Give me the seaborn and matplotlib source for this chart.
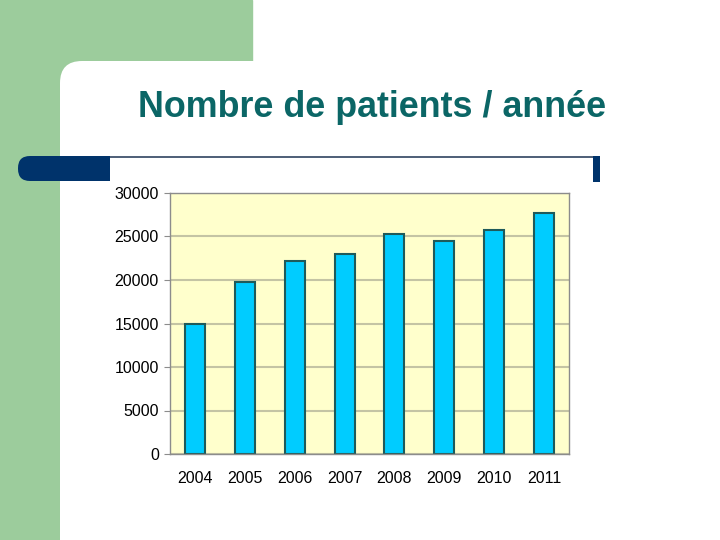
import matplotlib
matplotlib.use("Agg")
import matplotlib.pyplot as plt
import seaborn as sns
import pandas as pd
from matplotlib.patches import Rectangle, FancyBboxPatch
from matplotlib.lines import Line2D
from matplotlib.transforms import IdentityTransform

# data
years = ["2004", "2005", "2006", "2007", "2008", "2009", "2010", "2011"]
patients = [14900, 19800, 22200, 22950, 25250, 24500, 25700, 27750]
y_ticks = [0, 5000, 10000, 15000, 20000, 25000, 30000]
title = "Nombre de patients / année"

sns.set_style("white")
plt.rcParams["font.family"] = ["Liberation Sans", "DejaVu Sans"]

W, H = 720, 540
fig = plt.figure(figsize=(7.2, 5.4), dpi=100)
px = IdentityTransform()

# slide background: green corner + white rounded panel
green = "#9CCC9C"
navy = "#00336B"
fig.patches.append(Rectangle((0, H - 85), 252, 85, color=green, transform=px, zorder=-3))
fig.patches.append(Rectangle((0, 0), 85, H, color=green, transform=px, zorder=-3))
fig.patches.append(FancyBboxPatch((60, -60), 800, H - 61 + 60,
                                  boxstyle="round,pad=0,rounding_size=22",
                                  facecolor="white", edgecolor="none",
                                  transform=px, zorder=-2))

# dark blue header bar
fig.patches.append(FancyBboxPatch((18, H - 181), 60, 25,
                                  boxstyle="round,pad=0,rounding_size=12",
                                  facecolor=navy, edgecolor="none",
                                  transform=px, zorder=-1))
fig.patches.append(Rectangle((45, H - 181), 65, 25, facecolor=navy,
                             edgecolor="none", transform=px, zorder=-1))
fig.lines.append(Line2D([110, 596], [H - 156.5, H - 156.5], color="#2F4360",
                        linewidth=1.2, transform=px, zorder=-1))
fig.patches.append(Rectangle((593, H - 182), 7, 26, facecolor=navy,
                             edgecolor="none", transform=px, zorder=-1))

fig.text(372, H - 117, title, transform=px, ha="center", va="baseline",
         fontsize=25.8, fontweight="bold", color="#0B6666")

# chart
ax = fig.add_axes([170 / W, (H - 454) / H, 399 / W, 261 / H])
ax.set_zorder(5)
df = pd.DataFrame({"annee": years, "patients": patients})
sns.barplot(data=df, x="annee", y="patients", order=years, color="#00CCFF",
            saturation=1, edgecolor="#1E5A5A", linewidth=1.5, width=0.4, ax=ax)

ax.set_facecolor("#FFFFCC")
ax.set_xlim(-0.5, len(years) - 0.5)
ax.set_ylim(0, 30000)
ax.set_yticks(y_ticks)
ax.set_yticklabels([str(v) for v in y_ticks])
ax.grid(axis="y", color="#C4C4A4", linewidth=1.5)
ax.set_axisbelow(True)
for s in ax.spines.values():
    s.set_visible(True)
    s.set_color("#8C8C8C")
    s.set_linewidth(1)

ax.set_xticks([i - 0.5 for i in range(len(years) + 1)], minor=True)
ax.tick_params(axis="x", which="major", length=0, pad=12.5, labelsize=11.5,
               labelcolor="black")
ax.tick_params(axis="x", which="minor", length=4, color="#8C8C8C", direction="out")
ax.tick_params(axis="y", length=4, color="#8C8C8C", pad=4, labelsize=11.5,
               left=True, labelcolor="black")
ax.set_xlabel("")
ax.set_ylabel("")

fig.savefig("out.png", dpi=100)
